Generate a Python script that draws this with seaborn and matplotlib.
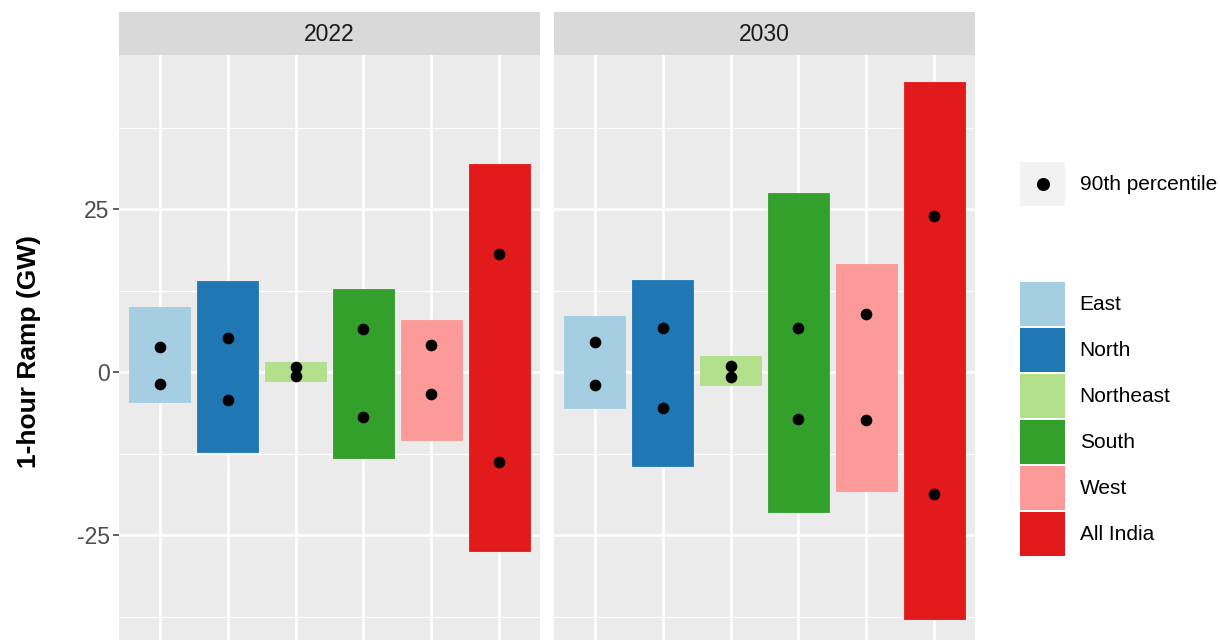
import matplotlib
matplotlib.use("Agg")
import matplotlib.pyplot as plt
import seaborn as sns
import pandas as pd
from matplotlib.patches import Patch, Rectangle
from matplotlib.lines import Line2D
from matplotlib.ticker import MultipleLocator
from matplotlib.legend_handler import HandlerLine2D

# ---------------- data ----------------
regions = ["East", "North", "Northeast", "South", "West", "All India"]
years = ["2022", "2030"]

max_2022 = [10.0, 14.0, 1.5, 12.7, 8.0, 31.9]
min_2022 = [-4.6, -12.3, -1.4, -13.2, -10.4, -27.5]
p90_up_2022 = [3.8, 5.2, 0.8, 6.6, 4.1, 18.1]
p90_down_2022 = [-1.8, -4.3, -0.6, -6.9, -3.4, -13.8]

max_2030 = [8.6, 14.1, 2.5, 27.5, 16.6, 44.5]
min_2030 = [-5.5, -14.4, -2.0, -21.5, -18.3, -37.9]
p90_up_2030 = [4.6, 6.7, 0.9, 6.7, 8.9, 23.9]
p90_down_2030 = [-2.0, -5.5, -0.8, -7.2, -7.4, -18.7]

colors = ["#A6CEE3", "#1F78B4", "#B2DF8A", "#33A02C", "#FB9A99", "#E31A1C"]

ranges = pd.DataFrame({
    "year": ["2022"] * 6 + ["2030"] * 6,
    "region": regions * 2,
    "max": max_2022 + max_2030,
    "min": min_2022 + min_2030,
})
points = pd.DataFrame({
    "year": ["2022"] * 12 + ["2030"] * 12,
    "region": regions * 4,
    "value": p90_up_2022 + p90_down_2022 + p90_up_2030 + p90_down_2030,
})

# ---------------- style ----------------
sns.set_theme(style="darkgrid", rc={"axes.facecolor": "#EBEBEB", "grid.color": "white"})
plt.rcParams["font.family"] = ["Liberation Sans", "DejaVu Sans"]
plt.rcParams["axes.unicode_minus"] = False

W, H = 1220, 640
fig = plt.figure(figsize=(W / 100, H / 100), dpi=100)
fig.patch.set_facecolor("white")

panels = [(119, 540), (554, 975)]
strip_top, strip_bot = 12, 55
px_per_unit = 6.52
y0_px = 372
ytop = (y0_px - strip_bot) / px_per_unit
ybot = -(H - y0_px) / px_per_unit

pal = dict(zip(regions, colors))

for i, (yr, (l, r)) in enumerate(zip(years, panels)):
    ax = fig.add_axes([l / W, 0, (r - l) / W, (H - strip_bot) / H])
    d = ranges[ranges["year"] == yr]
    p = points[points["year"] == yr]
    for col in ["max", "min"]:
        sns.barplot(data=d, x="region", y=col, hue="region", order=regions,
                    hue_order=regions, palette=pal, saturation=1, width=0.9,
                    dodge=False, errorbar=None, legend=False, ax=ax, linewidth=0)
    for patch in ax.patches:
        patch.set_edgecolor(patch.get_facecolor())
        patch.set_linewidth(0.6)
    sns.stripplot(data=p, x="region", y="value", order=regions, jitter=False,
                  color="black", size=8.4, linewidth=0, ax=ax, zorder=5)

    ax.set_xlim(-0.6, len(regions) - 0.4)
    ax.set_ylim(ybot, ytop)
    ax.set_xlabel("")
    ax.set_ylabel("")
    ax.set_facecolor("#EBEBEB")
    ax.set_axisbelow(True)
    ax.yaxis.set_major_locator(MultipleLocator(25))
    ax.yaxis.set_minor_locator(MultipleLocator(12.5))
    ax.grid(False)
    ax.yaxis.grid(True, which="major", color="white", linewidth=1.9)
    ax.yaxis.grid(True, which="minor", color="white", linewidth=0.9)
    ax.xaxis.grid(True, which="major", color="white", linewidth=1.9)
    for s in ax.spines.values():
        s.set_visible(False)
    ax.tick_params(axis="x", which="both", length=0, labelbottom=False)
    ax.tick_params(axis="y", which="minor", length=0)
    if i == 0:
        ax.tick_params(axis="y", which="major", length=4.3, width=1.1,
                       color="#333333", labelsize=16.5, labelcolor="#4D4D4D", pad=2.5,
                       left=True)
    else:
        ax.tick_params(axis="y", which="major", length=0, labelleft=False)

    sax = fig.add_axes([l / W, (H - strip_bot) / H, (r - l) / W, (strip_bot - strip_top) / H])
    sax.set_facecolor("#D9D9D9")
    sax.set_xticks([])
    sax.set_yticks([])
    sax.grid(False)
    for s in sax.spines.values():
        s.set_visible(False)
    sax.text(0.5, 0.47, yr, ha="center", va="center", fontsize=16.5, color="#1A1A1A",
             transform=sax.transAxes)

fig.text(29 / W, 1 - 351 / H, "1-hour Ramp (GW)", rotation=90, ha="center",
         va="center", fontsize=19, fontweight="bold", color="black")


# ---------------- legends ----------------
class KeyWithDot(HandlerLine2D):
    def create_artists(self, legend, orig_handle, xdescent, ydescent, width,
                       height, fontsize, trans):
        rect = Rectangle((-xdescent, -ydescent), width, height,
                         facecolor="#F2F2F2", edgecolor="none", transform=trans)
        dot = Line2D([-xdescent + width / 2], [-ydescent + height / 2],
                     marker="o", color="black", linestyle="",
                     markersize=orig_handle.get_markersize(), transform=trans)
        return [rect, dot]


fs = 15
fpx = fs * 100 / 72
hl = 45 / fpx
hh = 2.87

pt_handle = Line2D([], [], marker="o", color="black", linestyle="", markersize=8.4)
leg1 = fig.legend([pt_handle], ["90th percentile"], loc="upper left",
                  bbox_to_anchor=(1020 / W, 1 - 162 / H), frameon=False,
                  fontsize=fs, handlelength=hl, handleheight=hh, borderpad=0,
                  borderaxespad=0, handletextpad=0.7,
                  handler_map={Line2D: KeyWithDot()})

fill_handles = [Patch(facecolor=c, edgecolor="none") for c in colors]
leg2 = fig.legend(fill_handles, regions, loc="upper left",
                  bbox_to_anchor=(1020 / W, 1 - 282 / H), frameon=False,
                  fontsize=fs, handlelength=hl, handleheight=hh, borderpad=0,
                  borderaxespad=0, handletextpad=0.7, labelspacing=0.1)
for t in list(leg1.get_texts()) + list(leg2.get_texts()):
    t.set_color("black")

fig.savefig("out.png", dpi=100, facecolor="white")
